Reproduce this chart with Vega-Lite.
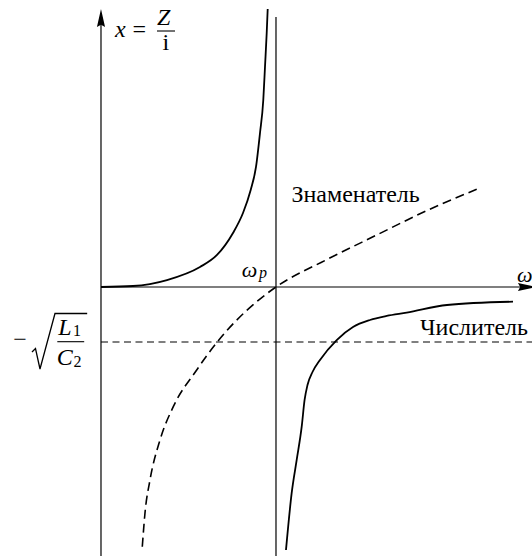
{
  "$schema": "https://vega.github.io/schema/vega-lite/v6.json",
  "width": 532,
  "height": 558,
  "autosize": {"type": "none"},
  "padding": 0,
  "background": "white",
  "config": {"view": {"stroke": null}},
  "datasets": {
    "curves": [
      {"series": "left", "w": 0.0, "v": 0.0},
      {"series": "left", "w": 0.1829, "v": 0.018},
      {"series": "left", "w": 0.3771, "v": 0.127},
      {"series": "left", "w": 0.5657, "v": 0.364},
      {"series": "left", "w": 0.6629, "v": 0.582},
      {"series": "left", "w": 0.7543, "v": 0.982},
      {"series": "left", "w": 0.8114, "v": 1.345},
      {"series": "left", "w": 0.8554, "v": 1.764},
      {"series": "left", "w": 0.8857, "v": 2.182},
      {"series": "left", "w": 0.9086, "v": 2.8},
      {"series": "left", "w": 0.9274, "v": 3.4},
      {"series": "left", "w": 0.9371, "v": 4.0},
      {"series": "left", "w": 0.9469, "v": 4.618},
      {"series": "left", "w": 0.9526, "v": 5.055},
      {"series": "right", "w": 1.0571, "v": -4.782},
      {"series": "right", "w": 1.0897, "v": -3.745},
      {"series": "right", "w": 1.1183, "v": -3.145},
      {"series": "right", "w": 1.1469, "v": -2.54},
      {"series": "right", "w": 1.1634, "v": -2.0545},
      {"series": "right", "w": 1.18, "v": -1.7818},
      {"series": "right", "w": 1.2086, "v": -1.5455},
      {"series": "right", "w": 1.2514, "v": -1.327},
      {"series": "right", "w": 1.3469, "v": -0.964},
      {"series": "right", "w": 1.44, "v": -0.727},
      {"series": "right", "w": 1.5371, "v": -0.6},
      {"series": "right", "w": 1.6326, "v": -0.527},
      {"series": "right", "w": 1.7469, "v": -0.467},
      {"series": "right", "w": 1.9771, "v": -0.327},
      {"series": "right", "w": 2.3543, "v": -0.267},
      {"series": "denominator", "w": 0.236, "v": -4.722},
      {"series": "denominator", "w": 0.2514, "v": -4.109},
      {"series": "denominator", "w": 0.28, "v": -3.509},
      {"series": "denominator", "w": 0.3371, "v": -2.782},
      {"series": "denominator", "w": 0.4131, "v": -2.176},
      {"series": "denominator", "w": 0.5469, "v": -1.509},
      {"series": "denominator", "w": 0.6703, "v": -0.976},
      {"series": "denominator", "w": 0.8897, "v": -0.267},
      {"series": "denominator", "w": 1.0, "v": 0.0},
      {"series": "denominator", "w": 1.2857, "v": 0.491},
      {"series": "denominator", "w": 1.5754, "v": 0.945},
      {"series": "denominator", "w": 1.857, "v": 1.382},
      {"series": "denominator", "w": 2.1469, "v": 1.776}
    ],
    "guides": [
      {"name": "x axis", "w": 0.0, "w2": 2.44, "v": 0.0, "v2": 0.0},
      {"name": "y axis", "w": 0.0, "w2": 0.0, "v": -4.891, "v2": 4.95},
      {"name": "resonance", "w": 1.0, "w2": 1.0, "v": -4.891, "v2": 4.909}
    ],
    "level": [
      {"name": "numerator limit", "w": 0.0, "w2": 2.4629, "v": -1.0, "v2": -1.0}
    ],
    "radical": [
      {"k": 1, "w": -0.3943, "v": -1.1818},
      {"k": 2, "w": -0.3743, "v": -1.1182},
      {"k": 3, "w": -0.3486, "v": -1.4909},
      {"k": 4, "w": -0.2629, "v": -0.4818},
      {"k": 5, "w": -0.0789, "v": -0.4818}
    ],
    "bars": [
      {"name": "Z over i", "w": 0.32, "w2": 0.4229, "v": 4.6545},
      {"name": "L1 over C2", "w": -0.2497, "w2": -0.096, "v": -0.9945}
    ],
    "arrowUp": [{"w": 0.0, "v": 4.891}],
    "arrowRight": [{"w": 2.434, "v": 0.0}],
    "words": [
      {"t": "Знаменатель", "w": 1.0886, "v": 1.5545},
      {"t": "Числитель", "w": 1.8229, "v": -0.8727}
    ],
    "mathItalic": [
      {"t": "x", "w": 0.08, "v": 4.551},
      {"t": "Z", "w": 0.32, "v": 4.7636},
      {"t": "L", "w": -0.244, "v": -0.8727},
      {"t": "C", "w": -0.2531, "v": -1.418}
    ],
    "omega": [
      {"t": "ω", "w": 0.804, "v": 0.1873},
      {"t": "ω", "w": 2.377, "v": 0.0964}
    ],
    "mathUpright": [
      {"t": "=", "w": 0.18, "v": 4.551},
      {"t": "i", "w": 0.352, "v": 4.309},
      {"t": "−", "w": -0.5011, "v": -1.0909}
    ],
    "subUpright": [
      {"t": "1", "w": -0.16, "v": -0.9},
      {"t": "2", "w": -0.157, "v": -1.4618}
    ],
    "subItalic": [
      {"t": "p", "w": 0.9029, "v": 0.1636}
    ]
  },
  "encoding": {
    "x": {"field": "w", "type": "quantitative", "axis": null,
          "scale": {"domain": [-0.5771, 2.4629], "nice": false, "zero": false}},
    "y": {"field": "v", "type": "quantitative", "axis": null,
          "scale": {"domain": [-4.9273, 5.2182], "nice": false, "zero": false}}
  },
  "layer": [
    {
      "data": {"name": "guides"},
      "mark": {"type": "rule", "color": "black", "strokeWidth": 1.2},
      "encoding": {"x2": {"field": "w2"}, "y2": {"field": "v2"}}
    },
    {
      "data": {"name": "level"},
      "mark": {"type": "rule", "color": "black", "strokeWidth": 1.2, "strokeDash": [7, 4.5]},
      "encoding": {"x2": {"field": "w2"}, "y2": {"field": "v2"}}
    },
    {
      "data": {"name": "curves"},
      "transform": [{"filter": "datum.series !== 'denominator'"}],
      "mark": {"type": "line", "color": "black", "strokeWidth": 1.8, "interpolate": "monotone"},
      "encoding": {"detail": {"field": "series"}, "order": {"field": "w", "type": "quantitative"}}
    },
    {
      "data": {"name": "curves"},
      "transform": [{"filter": "datum.series === 'denominator'"}],
      "mark": {"type": "line", "color": "black", "strokeWidth": 1.6, "strokeDash": [9, 5], "interpolate": "monotone"},
      "encoding": {"order": {"field": "w", "type": "quantitative"}}
    },
    {
      "data": {"name": "arrowUp"},
      "mark": {"type": "point", "filled": true, "color": "black", "opacity": 1, "size": 324,
               "shape": "M0,-1L0.45,1L0,0.75L-0.45,1Z"}
    },
    {
      "data": {"name": "arrowRight"},
      "mark": {"type": "point", "filled": true, "color": "black", "opacity": 1, "size": 324, "angle": 90,
               "shape": "M0,-1L0.45,1L0,0.75L-0.45,1Z"}
    },
    {
      "data": {"name": "radical"},
      "mark": {"type": "line", "color": "black", "strokeWidth": 1.3, "interpolate": "linear"},
      "encoding": {"order": {"field": "k", "type": "quantitative"}}
    },
    {
      "data": {"name": "bars"},
      "mark": {"type": "rule", "color": "black", "strokeWidth": 1.1},
      "encoding": {"x2": {"field": "w2"}}
    },
    {
      "data": {"name": "words"},
      "mark": {"type": "text", "font": "Liberation Serif", "fontSize": 24, "align": "left", "baseline": "alphabetic", "color": "black"},
      "encoding": {"text": {"field": "t"}}
    },
    {
      "data": {"name": "mathItalic"},
      "mark": {"type": "text", "font": "Liberation Serif", "fontStyle": "italic", "fontSize": 24, "align": "left", "baseline": "alphabetic", "color": "black"},
      "encoding": {"text": {"field": "t"}}
    },
    {
      "data": {"name": "omega"},
      "mark": {"type": "text", "font": "Liberation Serif", "fontStyle": "italic", "fontSize": 22, "align": "left", "baseline": "alphabetic", "color": "black"},
      "encoding": {"text": {"field": "t"}}
    },
    {
      "data": {"name": "mathUpright"},
      "mark": {"type": "text", "font": "Liberation Serif", "fontSize": 24, "align": "left", "baseline": "alphabetic", "color": "black"},
      "encoding": {"text": {"field": "t"}}
    },
    {
      "data": {"name": "subUpright"},
      "mark": {"type": "text", "font": "Liberation Serif", "fontSize": 16, "align": "left", "baseline": "alphabetic", "color": "black"},
      "encoding": {"text": {"field": "t"}}
    },
    {
      "data": {"name": "subItalic"},
      "mark": {"type": "text", "font": "Liberation Serif", "fontStyle": "italic", "fontSize": 16, "align": "left", "baseline": "alphabetic", "color": "black"},
      "encoding": {"text": {"field": "t"}}
    }
  ]
}
